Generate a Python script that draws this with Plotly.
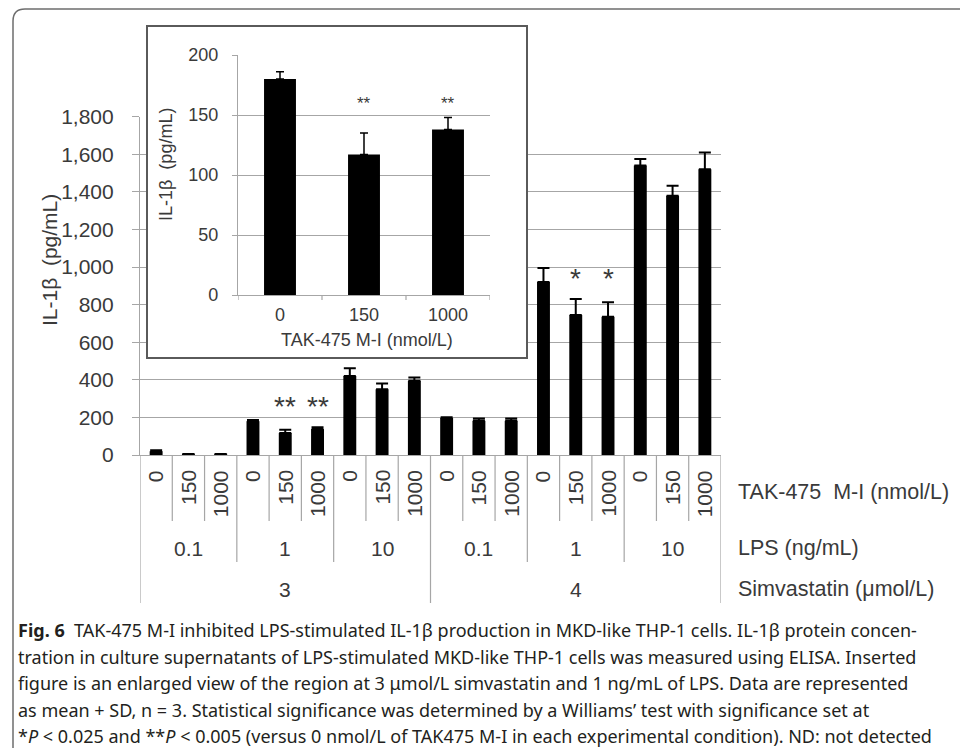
import plotly.graph_objects as go

# ---------------- data ----------------
simvastatin = ["3", "4"]                 # µmol/L
lps = ["0.1", "1", "10"]                 # ng/mL
tak = ["0", "150", "1000"]               # nmol/L TAK-475 M-I

il1b_mean = [20, 4, 4, 180, 117, 138, 420, 350, 395,
             198, 182, 182, 920, 745, 735, 1540, 1380, 1520]
il1b_sd = [5, 1, 1, 6, 18, 10, 42, 30, 18,
           3, 12, 12, 75, 85, 78, 35, 52, 90]
signif = ["", "", "", "", "**", "**", "", "", "",
          "", "", "", "", "*", "*", "", "", ""]

inset_tak = ["0", "150", "1000"]
inset_mean = [180, 117, 138]
inset_sd = [6, 18, 10]
inset_signif = ["", "**", "**"]

main_yticks = list(range(0, 1801, 200))
inset_yticks = [0, 50, 100, 150, 200]

caption_lines = [
    "<b>Fig. 6</b>  TAK-475 M-I inhibited LPS-stimulated IL-1β production in MKD-like THP-1 cells. IL-1β protein concen-",
    "tration in culture supernatants of LPS-stimulated MKD-like THP-1 cells was measured using ELISA. Inserted",
    "figure is an enlarged view of the region at 3 μmol/L simvastatin and 1 ng/mL of LPS. Data are represented",
    "as mean + SD, n = 3. Statistical significance was determined by a Williams’ test with significance set at",
    "*<i>P</i> &lt; 0.025 and **<i>P</i> &lt; 0.005 (versus 0 nmol/L of TAK475 M-I in each experimental condition). ND: not detected",
]

# ---------------- layout helpers ----------------
W, H = 960, 748
FONT = "Liberation Sans, Arial, sans-serif"
TXT = "#3a3a3a"
GRID = "#a6a6a6"


def px(x):
    return x / W


def py(y):
    return 1 - y / H


n = len(simvastatin) * len(lps) * len(tak)
xs = list(range(n))
groups = [(s, l, t) for s in simvastatin for l in lps for t in tak]
ixs = list(range(len(inset_tak)))

fig = go.Figure()

fig.add_trace(go.Bar(
    x=xs, y=il1b_mean, width=0.4, marker=dict(color="black", line=dict(width=0)),
    error_y=dict(type="data", array=il1b_sd, arrayminus=[0] * n, symmetric=False,
                 color="black", thickness=2, width=6),
    xaxis="x", yaxis="y", hoverinfo="skip",
))

# inset frame (separate subplot so its background hides the main gridlines)
fig.add_trace(go.Scatter(x=[], y=[], xaxis="x2", yaxis="y2", hoverinfo="skip"))

fig.add_trace(go.Bar(
    x=ixs, y=inset_mean, width=0.38, marker=dict(color="black", line=dict(width=0)),
    error_y=dict(type="data", array=inset_sd, arrayminus=[0] * 3, symmetric=False,
                 color="black", thickness=1.5, width=4),
    xaxis="x3", yaxis="y3", hoverinfo="skip",
))

annotations = []
shapes = []


def note(**kw):
    kw.setdefault("showarrow", False)
    kw.setdefault("xanchor", "center")
    kw.setdefault("yanchor", "middle")
    annotations.append(kw)


# main y title
note(text="IL-1β  (pg/mL)", xref="paper", yref="paper", x=px(49), y=py(260), textangle=-90,
     font=dict(size=21, color=TXT, family=FONT))

# significance marks main
for i, s in enumerate(signif):
    if s:
        grp = i // 3
        top = max(m + d for m, d, g in zip(il1b_mean[grp * 3:grp * 3 + 3], il1b_sd[grp * 3:grp * 3 + 3],
                                           signif[grp * 3:grp * 3 + 3]) if g)
        note(text=s, x=i, y=top, xref="x", yref="y", yshift=21,
             font=dict(size=28, color=TXT, family=FONT))

# significance marks inset
itop = max(m + d for m, d, g in zip(inset_mean, inset_sd, inset_signif) if g)
for i, s in enumerate(inset_signif):
    if s:
        note(text=s, x=i, y=itop, xref="x3", yref="y3", yshift=14,
             font=dict(size=17, color=TXT, family=FONT))

# inset titles
note(text="IL-1β  (pg/mL)", xref="paper", yref="paper", x=px(166), y=py(165), textangle=-90,
     font=dict(size=18, color=TXT, family=FONT))
note(text="TAK-475 M-I (nmol/L)", xref="paper", yref="paper", x=px(367), y=py(340),
     font=dict(size=18, color=TXT, family=FONT))

# category table below the main axis
for i, (s, l, t) in enumerate(groups):
    note(text=t, x=i, xref="x", y=py(468), yref="paper", yanchor="top", textangle=-90,
         font=dict(size=21, color=TXT, family=FONT))
for j in range(len(simvastatin) * len(lps)):
    note(text=lps[j % len(lps)], x=j * 3 + 1, xref="x", y=py(548), yref="paper",
         font=dict(size=21, color=TXT, family=FONT))
for k, s in enumerate(simvastatin):
    note(text=s, x=k * 9 + 4, xref="x", y=py(589), yref="paper",
         font=dict(size=21, color=TXT, family=FONT))

for txt, yy in [("TAK-475  M-I (nmol/L)", 492), ("LPS (ng/mL)", 548), ("Simvastatin (μmol/L)", 589)]:
    note(text=txt, xref="paper", yref="paper", x=px(736), y=py(yy), xanchor="left",
         font=dict(size=21.5, color=TXT, family=FONT))

for b in range(n + 1):
    if b % 9 == 0:
        bottom = 603
    elif b % 3 == 0:
        bottom = 562
    else:
        bottom = 521
    shapes.append(dict(type="line", xref="x", yref="paper", x0=b - 0.5, x1=b - 0.5,
                       y0=py(455), y1=py(bottom), line=dict(color=GRID, width=1.2)))

# caption
for k, line in enumerate(caption_lines):
    note(text=line, xref="paper", yref="paper", x=px(16), y=py(630 + k * 26.6), xanchor="left",
         font=dict(size=18, color="#231f20", family="Noto Sans, Open Sans, sans-serif"))

# outer frame with rounded top-left corner
r = 12
x0 = px(13)
shapes.append(dict(type="path", xref="paper", yref="paper", layer="above",
                   path=f"M {x0},0 L {x0},{py(9 + r)} Q {x0},{py(9)} {px(13 + r)},{py(9)} L 1,{py(9)}",
                   line=dict(color="#6e6e6e", width=1.5)))

fig.update_layout(
    template="none",
    width=W, height=H, margin=dict(l=0, r=0, t=0, b=0, pad=0, autoexpand=False),
    paper_bgcolor="white", plot_bgcolor="white", showlegend=False,
    font=dict(family=FONT, color=TXT),
    xaxis=dict(domain=[px(140), px(721)], range=[-0.5, n - 0.5], showticklabels=False,
               showgrid=False, zeroline=False, showline=True, linecolor=GRID, linewidth=1.2,
               ticks="", fixedrange=True, anchor="y", automargin=False),
    yaxis=dict(domain=[py(455), py(116.7)], range=[0, 1800], tickvals=main_yticks,
               tickformat=",", showgrid=True, gridcolor=GRID, gridwidth=1.2, zeroline=False,
               showline=True, linecolor=GRID, linewidth=1.2, ticks="outside", ticklen=7,
               tickcolor=GRID, ticklabelstandoff=14, tickfont=dict(size=21, color=TXT, family=FONT),
               anchor="x", automargin=False),
    xaxis2=dict(domain=[px(148), px(526)], range=[0, 1], anchor="y2", showline=True, mirror=True,
                linecolor="#5a5a5a", linewidth=1.5, showgrid=False, zeroline=False,
                showticklabels=False, ticks="", automargin=False),
    yaxis2=dict(domain=[py(357), py(27)], range=[0, 1], anchor="x2", showline=True, mirror=True,
                linecolor="#5a5a5a", linewidth=1.5, showgrid=False, zeroline=False,
                showticklabels=False, ticks="", automargin=False),
    xaxis3=dict(domain=[px(238), px(490)], anchor="y3", range=[-0.5, len(inset_tak) - 0.5],
                tickvals=ixs, ticktext=inset_tak, showline=True,
                linecolor=GRID, linewidth=1.2, ticks="", showgrid=False, zeroline=False,
                ticklabelstandoff=3, tickfont=dict(size=18, color=TXT, family=FONT), automargin=False),
    yaxis3=dict(domain=[py(295), py(55)], anchor="x3", range=[0, 200], tickvals=inset_yticks,
                showgrid=True, gridcolor=GRID, gridwidth=1.2, zeroline=False, showline=True,
                linecolor=GRID, linewidth=1.2, ticks="outside", ticklen=5, tickcolor=GRID,
                ticklabelstandoff=10, tickfont=dict(size=18, color=TXT, family=FONT), automargin=False),
    annotations=annotations, shapes=shapes,
)

# small boundary ticks on the inset category axis
for b in range(len(inset_tak) + 1):
    fig.add_shape(type="line", xref="x3", yref="paper", x0=b - 0.5, x1=b - 0.5,
                  y0=py(295), y1=py(300), line=dict(color=GRID, width=1.2))

fig.write_html("out.html", config={"displayModeBar": False},
               post_script="document.body.style.margin='0px';")
